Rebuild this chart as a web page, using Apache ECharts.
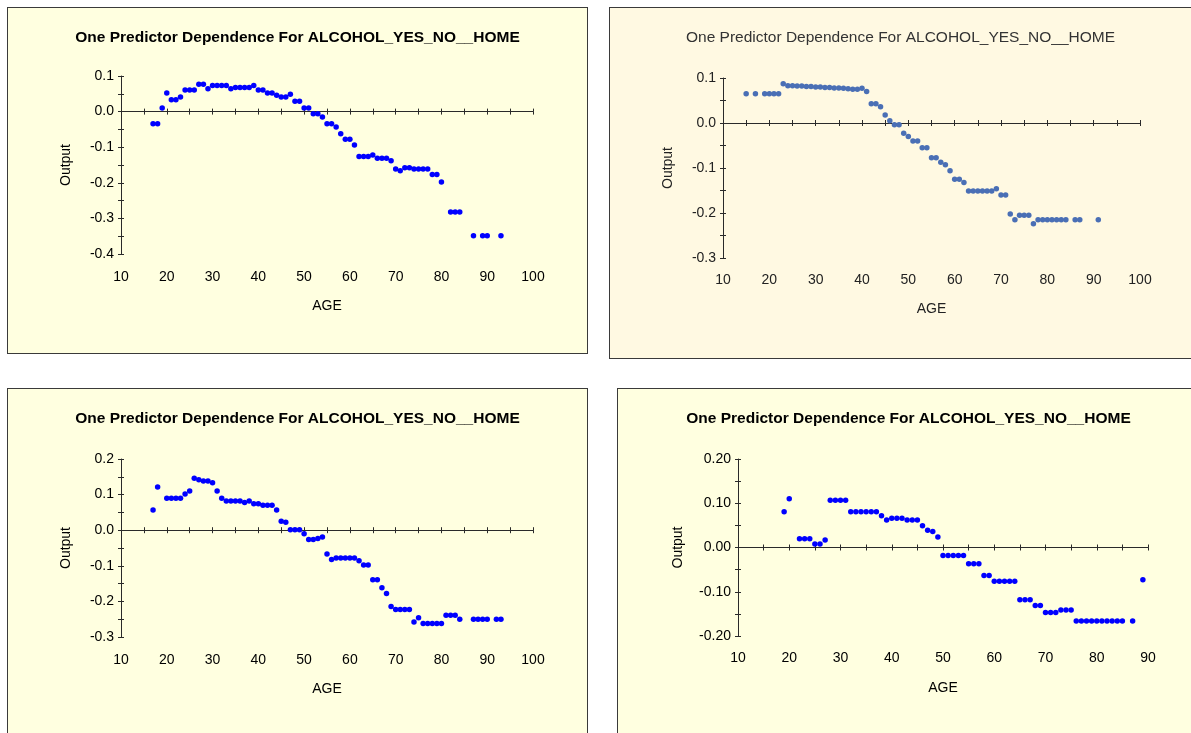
<!DOCTYPE html>
<html>
<head>
<meta charset="utf-8">
<script src="https://cdn.jsdelivr.net/npm/echarts@6/dist/echarts.min.js"></script>
<style>
  html, body { margin: 0; padding: 0; background: #ffffff; width: 1191px; height: 733px; overflow: hidden; }
  .panel { position: absolute; border: 1px solid #3a3a3a; box-sizing: content-box; }
</style>
</head>
<body>
<div id="p1" class="panel" style="left:7px; top:7px; width:579px; height:345px;"></div>
<div id="p2" class="panel" style="left:609px; top:7px; width:581px; height:350px;"></div>
<div id="p3" class="panel" style="left:7px; top:388px; width:579px; height:360px;"></div>
<div id="p4" class="panel" style="left:617px; top:388px; width:581px; height:360px;"></div>
<script>
const titleText = 'One Predictor Dependence For ALCOHOL_YES_NO__HOME'

// top left
const p1Age = [17,18,19,20,21,22,23,24,25,26,27,28,29,30,31,32,33,34,35,36,37,38,39,40,41,42,43,44,45,46,47,48,49,50,51,52,53,54,55,56,57,58,59,60,61,62,63,64,65,66,67,68,69,70,71,72,73,74,75,76,77,78,79,80,82,83,84,87,89,90,93]
const p1Out = [-0.034,-0.034,0.010,0.052,0.033,0.033,0.041,0.061,0.061,0.061,0.077,0.077,0.064,0.073,0.073,0.073,0.073,0.064,0.068,0.068,0.068,0.068,0.073,0.061,0.061,0.052,0.052,0.046,0.041,0.041,0.049,0.029,0.029,0.010,0.010,-0.006,-0.006,-0.015,-0.034,-0.034,-0.043,-0.062,-0.078,-0.078,-0.094,-0.126,-0.126,-0.126,-0.122,-0.131,-0.131,-0.131,-0.138,-0.161,-0.166,-0.158,-0.158,-0.161,-0.161,-0.161,-0.161,-0.177,-0.177,-0.198,-0.282,-0.282,-0.282,-0.349,-0.349,-0.349,-0.349]

// top right
const p2Age = [15,17,19,20,21,22,23,24,25,26,27,28,29,30,31,32,33,34,35,36,37,38,39,40,41,42,43,44,45,46,47,48,49,50,51,52,53,54,55,56,57,58,59,60,61,62,63,64,65,66,67,68,69,70,71,72,73,74,75,76,77,78,79,80,81,82,83,84,86,87,91]
const p2Out = [0.065,0.065,0.065,0.065,0.065,0.065,0.087,0.083,0.083,0.082,0.082,0.081,0.081,0.080,0.080,0.079,0.079,0.078,0.078,0.077,0.076,0.075,0.075,0.077,0.070,0.043,0.043,0.036,0.018,0.005,-0.004,-0.004,-0.023,-0.030,-0.040,-0.040,-0.055,-0.055,-0.077,-0.077,-0.087,-0.093,-0.106,-0.125,-0.125,-0.132,-0.151,-0.151,-0.151,-0.151,-0.151,-0.151,-0.146,-0.160,-0.160,-0.202,-0.215,-0.205,-0.205,-0.205,-0.224,-0.215,-0.215,-0.215,-0.215,-0.215,-0.215,-0.215,-0.215,-0.215,-0.215]

// bottom left
const p3Age = [17,18,20,21,22,23,24,25,26,27,28,29,30,31,32,33,34,35,36,37,38,39,40,41,42,43,44,45,46,47,48,49,50,51,52,53,54,55,56,57,58,59,60,61,62,63,64,65,66,67,68,69,70,71,72,73,74,75,76,77,78,79,80,81,82,83,84,87,88,89,90,92,93]
const p3Out = [0.057,0.121,0.090,0.090,0.090,0.090,0.102,0.110,0.146,0.142,0.138,0.138,0.133,0.110,0.090,0.082,0.082,0.082,0.082,0.078,0.082,0.074,0.074,0.070,0.070,0.070,0.057,0.025,0.022,0.001,0.001,0.001,-0.010,-0.026,-0.026,-0.023,-0.019,-0.067,-0.082,-0.078,-0.078,-0.078,-0.078,-0.078,-0.086,-0.098,-0.098,-0.139,-0.139,-0.162,-0.178,-0.214,-0.223,-0.223,-0.223,-0.223,-0.258,-0.246,-0.262,-0.262,-0.262,-0.262,-0.262,-0.239,-0.239,-0.239,-0.250,-0.250,-0.250,-0.250,-0.250,-0.250,-0.250]

// bottom right
const p4Age = [19,20,22,23,24,25,26,27,28,29,30,31,32,33,34,35,36,37,38,39,40,41,42,43,44,45,46,47,48,49,50,51,52,53,54,55,56,57,58,59,60,61,62,63,64,65,66,67,68,69,70,71,72,73,74,75,76,77,78,79,80,81,82,83,84,85,87,89]
const p4Out = [0.081,0.110,0.020,0.020,0.020,0.008,0.008,0.017,0.107,0.107,0.107,0.107,0.081,0.081,0.081,0.081,0.081,0.081,0.072,0.062,0.066,0.066,0.066,0.062,0.062,0.062,0.049,0.039,0.036,0.024,-0.018,-0.018,-0.018,-0.018,-0.018,-0.037,-0.037,-0.037,-0.063,-0.063,-0.076,-0.076,-0.076,-0.076,-0.076,-0.118,-0.118,-0.118,-0.131,-0.131,-0.147,-0.147,-0.147,-0.141,-0.141,-0.141,-0.166,-0.166,-0.166,-0.166,-0.166,-0.166,-0.166,-0.166,-0.166,-0.166,-0.166,-0.073]

const FONT = "'Liberation Sans', Arial, sans-serif"

const yLabel = (digits) => (v) => {
    let r = Math.round(v * 100)
    if (r % 10 !== 0) return ''
    if (r === 0) return (0).toFixed(digits)
    return (r / 100).toFixed(digits)
}

const xLabel = (v) => (Math.round(v) % 10 === 0 ? String(Math.round(v)) : '')

const makePanel = (id, cfg) => {
    let chart = echarts.init(document.getElementById(id), null, {renderer: 'canvas'})
    let pts = cfg.age.map((a, i) => [a, cfg.out[i]])
    let lineStyle = {color: '#2a2a2a', width: 1}
    let baseX = {type: 'value', min: 10, max: cfg.xMax, interval: 5, splitLine: {show: false}}
    let baseY = {type: 'value', min: cfg.yMin, max: cfg.yMax, interval: 0.05, splitLine: {show: false}}
    let txt = {color: cfg.textColor, fontFamily: FONT, fontSize: 14}
    chart.setOption({
        animation: false,
        backgroundColor: cfg.bg,
        title: {
            text: titleText,
            left: 'center',
            top: cfg.titleTop,
            textStyle: {fontFamily: FONT, fontSize: cfg.titleSize, fontWeight: cfg.titleWeight, color: cfg.titleColor}
        },
        grid: {left: cfg.grid[0], top: cfg.grid[1], width: cfg.grid[2], height: cfg.grid[3]},
        xAxis: [
            Object.assign({}, baseX, {
                position: 'bottom',
                axisLine: {show: false, onZero: false},
                axisTick: {show: false},
                axisLabel: Object.assign({formatter: xLabel, margin: cfg.xMargin}, txt),
                name: 'AGE',
                nameLocation: 'middle',
                nameGap: cfg.xNameGap,
                nameTextStyle: txt
            }),
            Object.assign({}, baseX, {
                position: 'bottom',
                axisLine: {show: true, onZero: true, lineStyle: lineStyle},
                axisTick: {show: true, length: 3, lineStyle: lineStyle},
                axisLabel: {show: false}
            }),
            Object.assign({}, baseX, {
                position: 'top',
                axisLine: {show: true, onZero: true, lineStyle: lineStyle},
                axisTick: {show: true, length: 3, lineStyle: lineStyle},
                axisLabel: {show: false}
            })
        ],
        yAxis: [
            Object.assign({}, baseY, {
                position: 'left',
                axisLine: {show: true, onZero: false, lineStyle: lineStyle},
                axisTick: {show: true, length: 3, lineStyle: lineStyle},
                axisLabel: Object.assign({formatter: yLabel(cfg.digits), margin: 7}, txt),
                name: 'Output',
                nameLocation: 'middle',
                nameGap: cfg.yNameGap,
                nameTextStyle: txt
            }),
            Object.assign({}, baseY, {
                position: 'left',
                axisLine: {show: false, onZero: false},
                axisTick: {show: true, inside: true, length: 3, lineStyle: lineStyle},
                axisLabel: {show: false}
            })
        ],
        series: [{
            type: 'scatter',
            data: pts,
            symbol: 'circle',
            symbolSize: cfg.dot,
            itemStyle: {color: cfg.dotColor, opacity: 1},
            z: 5
        }]
    })
    return chart
}

makePanel('p1', {
    age: p1Age, out: p1Out, xMax: 100, yMin: -0.4, yMax: 0.1, digits: 1,
    grid: [113, 68, 412, 178], bg: '#ffffe0',
    titleTop: 17, titleSize: 15.5, titleWeight: 'bold', titleColor: '#000',
    textColor: '#000', xMargin: 16, xNameGap: 45, yNameGap: 48,
    dot: 5.5, dotColor: '#0000ff'
})

makePanel('p2', {
    age: p2Age, out: p2Out, xMax: 100, yMin: -0.3, yMax: 0.1, digits: 1,
    grid: [113, 70, 417, 180], bg: '#fff9e2',
    titleTop: 17, titleSize: 15.5, titleWeight: 'normal', titleColor: '#333',
    textColor: '#222', xMargin: 15, xNameGap: 44, yNameGap: 48,
    dot: 5.5, dotColor: '#4a6fb5'
})

makePanel('p3', {
    age: p3Age, out: p3Out, xMax: 100, yMin: -0.3, yMax: 0.2, digits: 1,
    grid: [113, 70, 412, 178], bg: '#ffffe0',
    titleTop: 17, titleSize: 15.5, titleWeight: 'bold', titleColor: '#000',
    textColor: '#000', xMargin: 16, xNameGap: 45, yNameGap: 48,
    dot: 5.5, dotColor: '#0000ff'
})

makePanel('p4', {
    age: p4Age, out: p4Out, xMax: 90, yMin: -0.2, yMax: 0.2, digits: 2,
    grid: [120, 70, 410, 177], bg: '#ffffe0',
    titleTop: 17, titleSize: 15.5, titleWeight: 'bold', titleColor: '#000',
    textColor: '#000', xMargin: 15, xNameGap: 45, yNameGap: 53,
    dot: 5.5, dotColor: '#0000ff'
})
</script>
</body>
</html>
